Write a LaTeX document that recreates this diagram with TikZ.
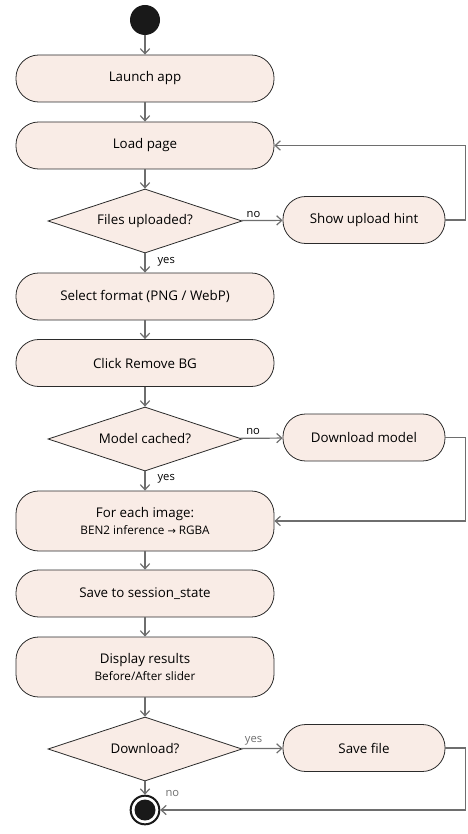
\documentclass[tikz,border=0pt]{standalone}
\usepackage{fontspec}
\setmainfont{Open Sans}
\newfontfamily\symfont{DejaVu Sans}
\usetikzlibrary{arrows.meta}
\usetikzlibrary{shapes.geometric}
\definecolor{actfill}{HTML}{F9ECE6}
\definecolor{actline}{HTML}{2B2B2B}
\definecolor{flowgray}{HTML}{6E6E6E}
\tikzset{
  % activity box, rounded at both ends
  action/.style={draw=actline,fill=actfill,line width=0.6pt,
    rounded corners=17pt,minimum width=193.5pt,minimum height=35.25pt,
    inner sep=0pt,align=center,font=\fontsize{10}{12}\selectfont},
  % decision node
  decision/.style={draw=actline,fill=actfill,line width=0.6pt,diamond,
    aspect=3,minimum width=145.5pt,minimum height=48pt,inner sep=0pt,
    font=\fontsize{10}{12}\selectfont},
  % arrows between activities
  flow/.style={draw=flowgray,line width=0.9pt,
    -{Straight Barb[length=3.8pt,width=7pt]}},
  guard/.style={font=\fontsize{8.4}{10}\selectfont,inner sep=1pt},
}
\newcommand{\subline}[1]{{\fontsize{8.8}{10}\selectfont #1}}

\begin{document}
\begin{tikzpicture}[x=0.75pt,y=-0.75pt]
\useasboundingbox (0,0) rectangle (467,834);
% start and end
\node[circle,fill=black!90,minimum size=22.5pt,inner sep=0pt] (start) at (145,20) {};
\node[circle,draw=black!90,line width=1.5pt,minimum size=21.5pt,inner sep=0pt] (stop) at (145,810) {};
\fill[black!90] (stop.center) circle (10.5);
% main column
\node[action] (launch) at (145,78.5) {Launch app};
\node[action] (load) at (145,145.5) {Load page};
\node[decision] (files) at (145,221) {Files uploaded?};
\node[action] (format) at (145,296.5) {Select format (PNG / WebP)};
\node[action] (click) at (145,363) {Click Remove BG};
\node[decision] (cached) at (145,439) {Model cached?};
\node[action,minimum height=45pt] (infer) at (145,521) {For each image:\\[1pt]\subline{BEN2 inference {\symfont\fontsize{7.5}{10}\selectfont →} RGBA}};
\node[action] (session) at (145,593.5) {Save to session\_state};
\node[action,minimum height=45pt] (display) at (145,667) {Display results\\[1pt]\subline{Before/After slider}};
\node[decision] (dl) at (145,749) {Download?};
% side column
\node[action,minimum width=121.5pt] (hint) at (364,220) {Show upload hint};
\node[action,minimum width=121.5pt] (model) at (364,437.5) {Download model};
\node[action,minimum width=121.5pt] (save) at (364,748) {Save file};

\draw[flow] (start) -- (launch);
\draw[flow] (launch) -- (load);
\draw[flow] (load) -- (files);
\draw[flow] (files) -- node[guard,pos=0.3,above=1pt,text=black]{no} (hint);
\draw[flow] (files) -- node[guard,pos=0.45,right=8pt,text=black]{yes} (format);
\draw[flow] (hint.east) -- ++(20,0) |- (load.east);
\draw[flow] (format) -- (click);
\draw[flow] (click) -- (cached);
\draw[flow] (cached) -- node[guard,pos=0.3,above=1pt,text=black]{no} (model);
\draw[flow] (cached) -- node[guard,pos=0.4,right=8pt,text=black]{yes} (infer);
\draw[flow] (model.east) -- ++(20,0) |- (infer.east);
\draw[flow] (infer) -- (session);
\draw[flow] (session) -- (display);
\draw[flow] (display) -- (dl);
\draw[flow] (dl) -- node[guard,pos=0.3,above=1pt,text=flowgray]{yes} (save);
\draw[flow] (dl) -- node[guard,pos=0.9,right=14pt,text=flowgray]{no} (stop);
\draw[flow] (save.east) -- ++(20,0) |- (stop.east);
\end{tikzpicture}
\end{document}
